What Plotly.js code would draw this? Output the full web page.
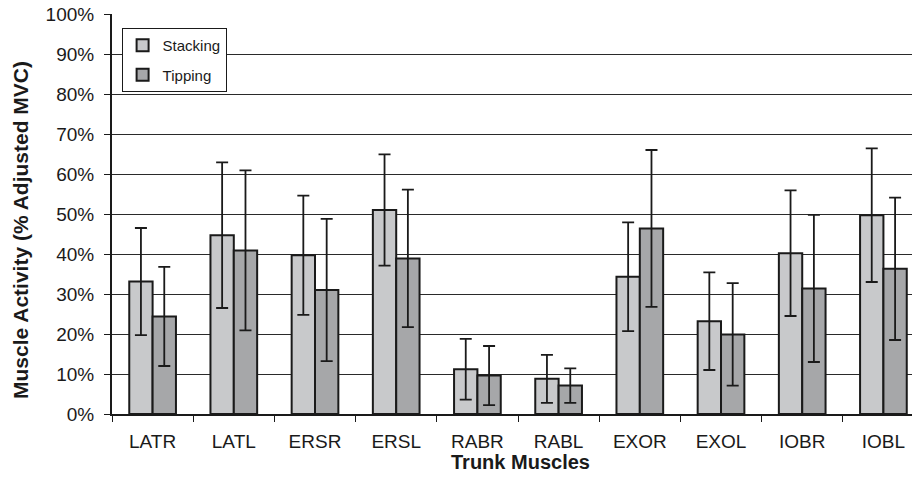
<!DOCTYPE html>
<html>
<head>
<meta charset="utf-8">
<script src="https://cdn.plot.ly/plotly-3.0.1.min.js"></script>
<style>html,body{margin:0;padding:0;background:#fff;}#chart{width:912px;height:481px;}</style>
</head>
<body>
<div id="chart"></div>
<script>
const categories = ['LATR','LATL','ERSR','ERSL','RABR','RABL','EXOR','EXOL','IOBR','IOBL'];
const stacking = [33.1, 44.7, 39.7, 51.0, 11.2, 8.8, 34.3, 23.2, 40.2, 49.7];
const stackingErr = [13.4, 18.2, 14.9, 13.9, 7.6, 6.0, 13.6, 12.2, 15.7, 16.7];
const tipping = [24.4, 40.9, 31.0, 38.9, 9.6, 7.1, 46.4, 19.9, 31.4, 36.3];
const tippingErr = [12.4, 20.0, 17.8, 17.2, 7.4, 4.3, 19.6, 12.8, 18.4, 17.8];
const yTicks = [0,10,20,30,40,50,60,70,80,90,100];

const font = 'Liberation Sans, Arial, sans-serif';
const ink = '#1a1a1a';
const errStyle = {type:'data', visible:true, color:ink, thickness:1.8, width:6};

const traces = [
  {type:'bar', name:'Stacking', legendgroup:'a', x:categories, y:stacking,
   marker:{color:'#c8c9cb', line:{color:ink, width:2}},
   error_y:Object.assign({array:stackingErr}, errStyle)},
  {type:'bar', name:'Tipping', legendgroup:'b', x:categories, y:tipping,
   marker:{color:'#a6a7a9', line:{color:ink, width:2}},
   error_y:Object.assign({array:tippingErr}, errStyle)}
];

const layout = {
  width:912, height:481,
  margin:{l:112, r:0, t:14, b:67},
  paper_bgcolor:'#fff', plot_bgcolor:'#fff',
  barmode:'group', bargap:0.425, bargroupgap:0,
  font:{family:font, color:ink, size:16},
  showlegend:true,
  legend:{x:0.012, y:0.965, xanchor:'left', yanchor:'top',
    bordercolor:ink, borderwidth:1, bgcolor:'#fff',
    font:{family:font, size:15, color:ink}, tracegroupgap:7, itemwidth:30},
  xaxis:{type:'category', range:[-0.5, 9.352], showline:true, linecolor:ink, linewidth:2,
    ticks:'outside', tickson:'boundaries', ticklen:6, tickcolor:ink, tickwidth:1,
    tickfont:{family:font, size:19, color:ink}, ticklabelstandoff:9,
    showgrid:false, fixedrange:true},
  yaxis:{range:[0,100], tickvals:yTicks, ticktext:yTicks.map(v=>v+'%'),
    showline:true, linecolor:ink, linewidth:2,
    ticks:'outside', ticklen:6, tickcolor:ink, tickwidth:1,
    tickfont:{family:font, size:19, color:ink}, ticklabelstandoff:6,
    showgrid:true, gridcolor:'#2a2a2a', gridwidth:1, zeroline:false,
    fixedrange:true},
  annotations:[
    {text:'<b>Trunk Muscles</b>', xref:'paper', yref:'paper', x:0.51, y:-0.12,
     xanchor:'center', yanchor:'middle', showarrow:false,
     font:{family:font, size:20, color:ink}},
    {text:'<b>Muscle Activity (% Adjusted MVC)</b>', xref:'paper', yref:'paper', x:-0.115, y:0.46,
     xanchor:'center', yanchor:'middle', textangle:-90, showarrow:false,
     font:{family:font, size:21, color:ink}}
  ]
};

Plotly.newPlot('chart', traces, layout, {displayModeBar:false, staticPlot:true});
</script>
</body>
</html>
